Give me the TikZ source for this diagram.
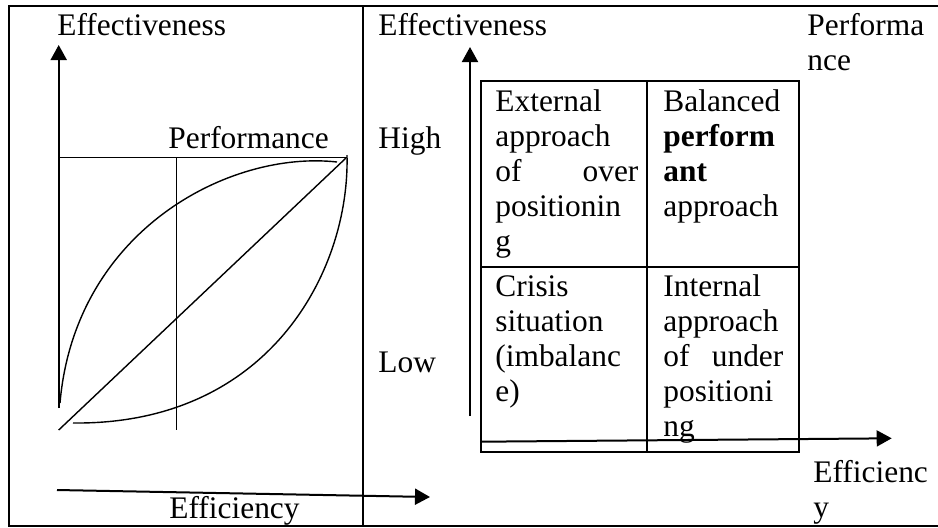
\documentclass[tikz,border=0pt]{standalone}
\usepackage{fontspec}
\setmainfont{Liberation Serif}
\usetikzlibrary{arrows.meta}

\begin{document}
\begin{tikzpicture}[
  x=0.5pt, y=-0.5pt,
  >={Triangle[length=7.5pt,width=8pt]},
  every node/.style={font=\fontsize{15.7}{17.5}\selectfont, inner sep=0pt},
  lbl/.style={anchor=base west},
  cell/.style={anchor=north west, align=left},
  frame/.style={line width=1pt},
  axis/.style={->, line width=1pt},
  curve/.style={line width=0.7pt}
]
\useasboundingbox (0,0) rectangle (938,527);

% Marco
\draw[frame] (938,6) -- (9,6) -- (9,525.5) -- (938,525.5);
\draw[frame] (362.7,6) -- (362.7,525.5);

% Panel izquierdo: ejes
\coordinate (oL) at (58.7,408);
\coordinate (yL) at (58.7,45);
\coordinate (xL0) at (57,490);
\coordinate (xL) at (430,497);
\draw[axis] (oL) -- (yL);
\draw[axis] (xL0) -- (xL);

% Panel izquierdo: curvas
\coordinate (pA) at (58.7,157.7);
\coordinate (pB) at (347,157.7);
\coordinate (mT) at (176.7,157.7);
\coordinate (mB) at (176.7,430);
\draw[curve] (pA) -- (pB);
\draw[curve] (mT) -- (mB);
\draw[curve] (58.7,430) -- (346,158);
\draw[curve] (60,403) .. controls (75,230) and (230,150) .. (337,162);
\draw[curve] (73,423) .. controls (270,425) and (350,270) .. (347,155);

\node[lbl] (effL) at (57,35) {Effectiveness};
\node[lbl] (perfL) at (168,148) {Performance};
\node[lbl] (effiL) at (169,518) {Efficiency};

% Panel derecho: ejes
\coordinate (oR) at (470,416);
\coordinate (yR) at (470,47);
\coordinate (xR0) at (480.7,441.7);
\coordinate (xR) at (891.7,438.3);
\draw[axis] (oR) -- (yR);

% Matriz
\draw[frame] (480.7,81) rectangle (799.3,451.7);
\draw[frame] (646.7,81) -- (646.7,451.7);
\draw[frame] (480.7,266.7) -- (799.3,266.7);

\node[cell] (c11) at (495,86.5) {\strut External\\approach\\\makebox[71.5pt]{of\hfill over}\\positionin\\g};
\node[cell] (c12) at (663,86.5) {\strut Balanced\\\textbf{perform}\\\textbf{ant}\\approach};
\node[cell] (c21) at (495,271.5) {\strut Crisis\\situation\\(imbalanc\\e)};
\node[cell] (c22) at (663,271.5) {\strut Internal\\approach\\\makebox[60pt]{of\hfill under}\\positioni\\ng};

\draw[axis] (xR0) -- (xR);

\node[lbl] (effR) at (378,35) {Effectiveness};
\node[lbl] (high) at (378,148) {High};
\node[lbl] (low) at (378,372) {Low};
\node[cell] (perfR) at (807,10.5) {\strut Performa\\nce};
\node[cell] (effiR) at (813,457.5) {\strut Efficienc\\y};

\end{tikzpicture}
\end{document}
